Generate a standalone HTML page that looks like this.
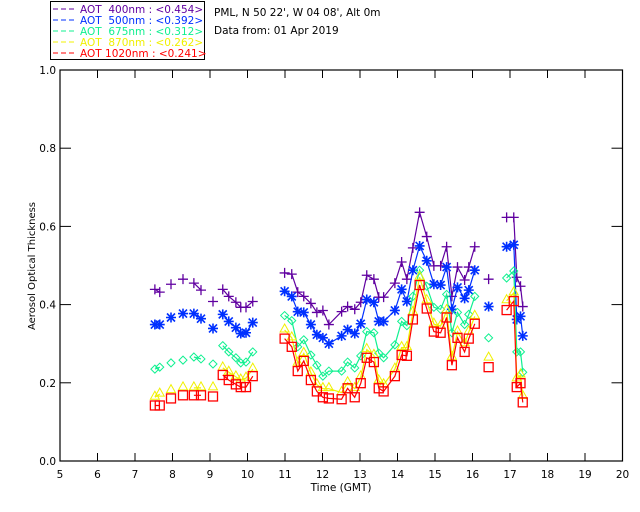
<!DOCTYPE html>
<html><head><meta charset="utf-8"><style>
body{margin:0;background:#fff;}
svg{display:block;font-family:"DejaVu Sans","Liberation Sans",sans-serif;}
</style></head><body>
<svg id="chart" width="640" height="512" viewBox="0 0 640 512" xmlns="http://www.w3.org/2000/svg">
<g>
<rect x="50.5" y="1.5" width="154" height="58" fill="#fff" stroke="#000"/>
</g>
<text x="214" y="16" font-size="10.5">PML, N 50 22', W 04 08', Alt 0m</text>
<text x="214" y="34" font-size="10.5">Data from: 01 Apr 2019</text>
<g id="axes"></g>
<g id="marks"></g>
<text x="341" y="491" font-size="10.5" text-anchor="middle">Time (GMT)</text>
<text x="0" y="0" font-size="10" text-anchor="middle" transform="translate(35,266) rotate(-90)">Aerosol Optical Thickness</text>
</svg>
<script>
const times = [7.53,7.66,null,7.96,null,8.28,null,8.57,8.76,null,9.08,null,9.34,9.50,9.69,9.82,9.96,10.14,null,
10.99,11.18,11.34,11.50,11.69,11.85,12.01,12.17,12.51,12.67,12.86,13.02,13.18,13.37,13.50,13.63,13.93,14.11,14.25,14.41,14.59,14.78,14.97,15.15,15.31,15.45,15.60,15.79,15.90,16.06,null,
16.43,null,16.91,17.10,17.18,17.28,17.34];
const aot400 = [.439,.432,null,.452,null,.465,null,.455,.437,null,.408,null,.439,.421,.406,.393,.393,.408,null,
.481,.478,.432,.421,.403,.380,.385,.349,.382,.395,.388,.406,.475,.465,.419,.419,.455,.509,.465,.545,.636,.574,.499,.499,.548,.421,.496,.463,.496,.548,null,
.465,null,.623,.623,.47,.447,.395];
const aot500 = [.349,.349,null,.367,null,.377,null,.377,.364,null,.339,null,.375,.357,.341,.326,.328,.354,null,
.434,.421,.382,.380,.349,.323,.315,.300,.320,.336,.326,.351,.413,.406,.357,.357,.385,.439,.408,.488,.550,.512,.452,.450,.496,.388,.444,.416,.437,.488,null,
.395,null,.548,.553,.362,.370,.320];
const aot675 = [.235,.240,null,.251,null,.258,null,.266,.261,null,.248,null,.295,.279,.264,.251,.253,.279,null,
.372,.359,.292,.310,.271,.245,.217,.230,.230,.253,.238,.269,.331,.328,.276,.264,.297,.357,.346,.421,.488,.447,.393,.388,.426,.328,.380,.349,.375,.421,null,
.315,null,.468,.486,.279,.279,.227];
const aot870 = [.163,.171,null,.180,null,.187,null,.187,.187,null,.187,null,.238,.227,.215,.207,.212,.235,null,
.335,.315,.250,.275,.225,.195,.185,.185,.175,.200,.185,.215,.285,.270,.205,.195,.235,.290,.290,.38,.47,.41,.35,.345,.385,.265,.33,.30,.33,.37,null,
.263,null,.41,.43,.21,.22,.165];
const aot1020 = [.142,.142,null,.160,null,.168,null,.168,.168,null,.165,null,.220,.207,.196,.189,.189,.217,null,
.313,.292,.230,.256,.207,.178,.163,.160,.158,.186,.163,.199,.264,.253,.186,.178,.217,.271,.269,.362,.450,.390,.331,.328,.367,.245,.315,.279,.313,.351,null,
.240,null,.386,.409,.189,.199,.150];
const xTicks = [5,6,7,8,9,10,11,12,13,14,15,16,17,18,19,20];
const yTicks = [0.0,0.2,0.4,0.6,0.8,1.0];
const legendLabels = ["AOT  400nm : <0.454>","AOT  500nm : <0.392>","AOT  675nm : <0.312>","AOT  870nm : <0.262>","AOT 1020nm : <0.241>"];

const NS="http://www.w3.org/2000/svg";
const X0=60,X1=622.5,Y0=461,Y1=70;
const xs=t=>X0+(t-5)/15*(X1-X0);
const ys=v=>Y0-v*(Y0-Y1);
function mk(tag,attrs,parent){const e=document.createElementNS(NS,tag);for(const k in attrs)e.setAttribute(k,attrs[k]);parent.appendChild(e);return e;}
const axes=document.getElementById('axes'), marks=document.getElementById('marks'), svg=document.getElementById('chart');
const frame=mk('rect',{x:X0,y:Y1,width:X1-X0,height:Y0-Y1,fill:'none',stroke:'#000','stroke-width':1.2},axes);


xTicks.forEach(t=>{
  const x=xs(t);
  const a=mk('line',{x1:x,y1:Y0,x2:x,y2:Y0-8,stroke:'#000'},axes);
  
  
  const b=mk('line',{x1:x,y1:Y1,x2:x,y2:Y1+8,stroke:'#000'},axes);
  
  
  const l=mk('text',{x:x,y:Y0+17,'font-size':10.5,'text-anchor':'middle'},axes);
  l.textContent=t;
  
  
});
yTicks.forEach(v=>{
  const y=ys(v);
  const a=mk('line',{x1:X0,y1:y,x2:X0+11,y2:y,stroke:'#000'},axes);
  
  
  const b=mk('line',{x1:X1,y1:y,x2:X1-11,y2:y,stroke:'#000'},axes);
  
  
  const l=mk('text',{x:X0-4,y:y+4,'font-size':10.5,'text-anchor':'end'},axes);
  l.textContent=v.toFixed(1);
  
  
});
const series=[[aot400,'#6000a0','plus'],[aot500,'#0030ff','star'],[aot675,'#10f090','diamond'],[aot870,'#f0f000','tri'],[aot1020,'#ff0000','square']];
function marker(type,x,y,c,g){
  let e;
  if(type==='plus') e=mk('path',{d:`M${x-5},${y}H${x+5}M${x},${y-5}V${y+5}`,stroke:c,'stroke-width':1.3,fill:'none'},g);
  else if(type==='star') e=mk('path',{d:`M${x-5},${y}H${x+5}M${x},${y-5}V${y+5}M${x-4},${y-4}L${x+4},${y+4}M${x-4},${y+4}L${x+4},${y-4}`,stroke:c,'stroke-width':1.6,fill:'none'},g);
  else if(type==='diamond') e=mk('path',{d:`M${x},${y-4}L${x+4},${y}L${x},${y+4}L${x-4},${y}Z`,stroke:c,fill:'none'},g);
  else if(type==='tri') e=mk('path',{d:`M${x},${y-6}L${x+4.5},${y+2}L${x-4.5},${y+2}Z`,stroke:c,fill:'none'},g);
  else e=mk('rect',{x:x-4.5,y:y-4.5,width:9,height:9,stroke:c,'stroke-width':1.3,fill:'none'},g);
  return e;
}
series.forEach(([vals,c,type],si)=>{
  const g=mk('g',{},marks);
  
  
  let d='',pen=false;
  times.forEach((t,i)=>{
    const v=vals[i];
    if(t===null||v===null){pen=false;return;}
    d+=(pen?'L':'M')+xs(t).toFixed(1)+','+ys(v).toFixed(1);
    pen=true;
  });
  const p=mk('path',{d:d,stroke:c,fill:'none','stroke-width':1.2},g);
  
  
  times.forEach((t,i)=>{
    const v=vals[i];
    if(t===null||v===null)return;
    const m=marker(type,xs(t),ys(v),c,g);
    
    
  });
  const ly=9+si*11;
  const ll=mk('line',{x1:53,y1:ly,x2:76,y2:ly,stroke:c,'stroke-dasharray':'5,3'},svg);
  
  
  const lt=mk('text',{x:80,y:ly+4,fill:c,'font-size':10.5,'xml:space':'preserve'},svg);
  lt.setAttribute('style','white-space:pre');
  lt.textContent=legendLabels[si];
  
  
});
</script>
</body></html>
